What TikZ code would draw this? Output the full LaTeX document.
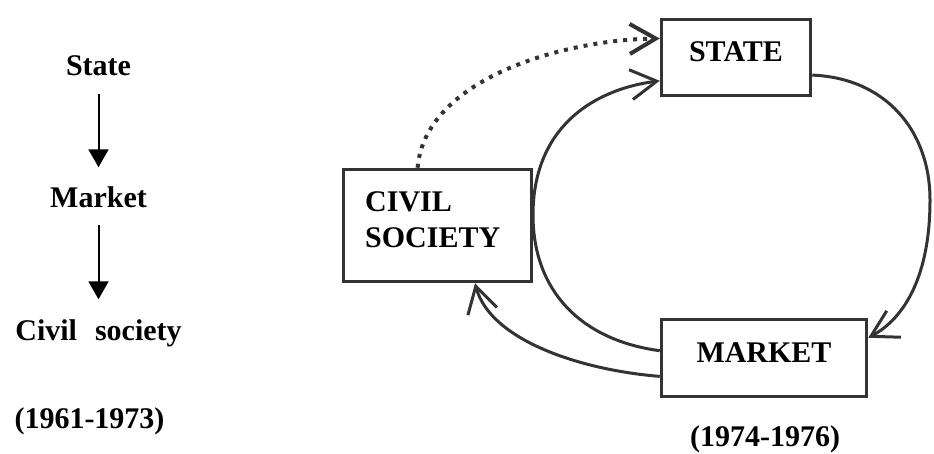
\documentclass[tikz,border=0pt]{standalone}
\usepackage{fontspec}
\setmainfont{Liberation Serif}
\usetikzlibrary{arrows.meta}
\begin{document}
\begin{tikzpicture}[x=1pt,y=-1pt,
  lbl/.style={font=\fontsize{30}{36}\selectfont\bfseries, inner sep=0pt},
  flowarrow/.style={line width=2pt, -{Triangle[length=18pt,width=20pt]}},
  boxnode/.style={draw=black!80, line width=3.5pt, inner sep=0pt,
    font=\fontsize{30}{36}\selectfont\bfseries, text height=20pt, text depth=11pt},
  link/.style={draw=black!80, line width=3pt, -{Straight Barb[length=26pt,width=30pt]}},
  dotlink/.style={link, line width=4pt, dash pattern=on 4pt off 6pt}]
\useasboundingbox (0,0) rectangle (934,454);

% sequence 1961-1973
\node[lbl, anchor=base] (s1) at (98.5,76) {State};
\node[lbl, anchor=base] (m1) at (98.5,208) {Market};
\node[lbl, anchor=base] (c1) at (98.5,340) {Civil\hspace{0.6em}society};
\node[lbl, anchor=base] (y1) at (89.5,428) {(1961-1973)};
\draw[flowarrow, shorten <=18pt, shorten >=19.7pt] (s1.south) -- (m1.north);
\draw[flowarrow, shorten <=17pt, shorten >=19.7pt] (m1.south) -- (c1.north);

% cycle 1974-1976
\node[boxnode, minimum width=149pt, minimum height=76pt] (state) at (736,57.5) {STATE};
\node[boxnode, minimum width=205pt, minimum height=77pt] (market) at (764,358) {MARKET};
\node[draw=black!80, line width=3.5pt, minimum width=188pt, minimum height=112pt, inner sep=0pt] (civil) at (437.5,225.5) {};
\node[lbl, anchor=base west] (civil1) at (365,212) {CIVIL};
\node[lbl, anchor=base west] (civil2) at (365,248) {SOCIETY};
\node[lbl, anchor=base] (y2) at (765,446) {(1974-1976)};

\draw[dotlink] (civil.109) .. controls (425,80) and (560,40) .. (state.166);
\draw[link] (market.176) .. controls (580,340) and (533,290) .. (533,215)
  .. controls (533,130) and (590,90) .. (state.197);
\draw[link] (state.347) .. controls (885,78) and (930,130) .. (930,200)
  .. controls (930,275) and (905,318) .. (market.11);
\draw[link] (market.190) .. controls (580,370) and (490,340) .. (civil.303);
\end{tikzpicture}
\end{document}
